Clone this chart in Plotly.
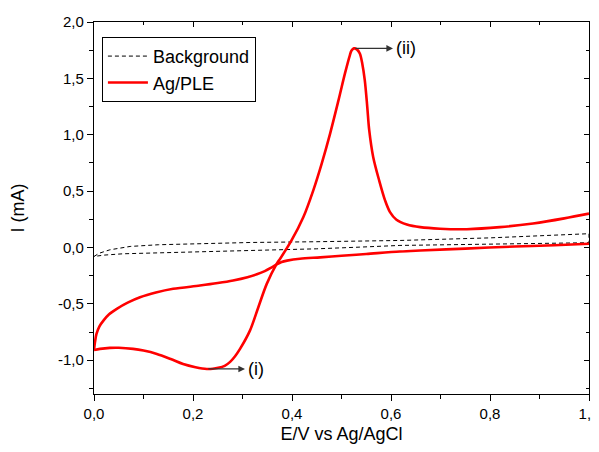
import plotly.graph_objects as go

# Background CV (forward then reverse)
bg_x = [0.0, 0.010, 0.032, 0.073, 0.130, 0.194, 0.315, 0.450, 0.537, 0.618, 0.800, 1.0,
        1.0, 0.800, 0.618, 0.537, 0.450, 0.315, 0.194, 0.120, 0.059, 0.020, 0.0]
bg_y = [-0.080, -0.052, -0.021, 0.009, 0.024, 0.033, 0.044, 0.051, 0.056, 0.062, 0.085, 0.122,
        0.042, 0.030, 0.018, 0.003, -0.012, -0.027, -0.041, -0.048, -0.056, -0.068, -0.080]

# Ag/PLE CV: lower-left branch -> return branch, gap, then upper branch through peaks
ag_x = [0.0, 0.002, 0.005, 0.011, 0.019, 0.030, 0.046, 0.068, 0.093, 0.125, 0.160, 0.214,
        0.250, 0.281, 0.310, 0.329, 0.345, 0.357, 0.369, 0.379, 0.390, 0.416, 0.457,
        0.500, 0.550, 0.618, 0.659, 0.750, 0.850, 0.930, 1.0,
        None,
        1.0, 0.950, 0.887, 0.820, 0.753, 0.699, 0.659, 0.632, 0.611, 0.598, 0.588, 0.576,
        0.564, 0.556, 0.552, 0.547, 0.542, 0.537, 0.531, 0.525, 0.520, 0.517, 0.507, 0.494,
        0.477, 0.460, 0.443, 0.423, 0.399, 0.376, 0.369, 0.349, 0.332, 0.315, 0.295, 0.285,
        0.275, 0.264, 0.251, 0.240, 0.228, 0.205, 0.180, 0.155, 0.127, 0.100, 0.079, 0.050,
        0.032, 0.012, 0.0]
ag_y = [-0.910, -0.840, -0.767, -0.700, -0.649, -0.595, -0.545, -0.490, -0.442, -0.400, -0.367, -0.338,
        -0.316, -0.293, -0.264, -0.238, -0.210, -0.182, -0.150, -0.129, -0.117, -0.100, -0.088,
        -0.074, -0.058, -0.036, -0.027, -0.010, 0.008, 0.020, 0.033,
        None,
        0.300, 0.258, 0.213, 0.180, 0.162, 0.166, 0.180, 0.204, 0.246, 0.314, 0.418, 0.596,
        0.803, 1.040, 1.250, 1.484, 1.630, 1.720, 1.757, 1.766, 1.745, 1.707, 1.544, 1.307,
        1.010, 0.744, 0.507, 0.270, 0.062, -0.100, -0.145, -0.323, -0.530, -0.738, -0.900, -0.965,
        -1.015, -1.050, -1.068, -1.076, -1.078, -1.062, -1.034, -0.990, -0.945, -0.915, -0.900, -0.890,
        -0.891, -0.900, -0.910]

x_ticks = [0.0, 0.2, 0.4, 0.6, 0.8, 1.0]
y_ticks = [-1.0, -0.5, 0.0, 0.5, 1.0, 1.5, 2.0]


def lab(v):
    return f"{v:.1f}".replace(".", ",")


FONT = "Liberation Sans, Arial, sans-serif"

fig = go.Figure()
fig.add_trace(go.Scatter(x=bg_x, y=bg_y, mode="lines", name="Background",
                         line=dict(color="black", width=1, dash="4px,3px")))
fig.add_trace(go.Scatter(x=ag_x, y=ag_y, mode="lines", name="Ag/PLE",
                         line=dict(color="#ff0000", width=2.6, shape="spline", smoothing=0.9),
                         connectgaps=False))
# placeholder trace so the mirrored top/right axes are drawn
fig.add_trace(go.Scatter(x=[None], y=[None], xaxis="x2", yaxis="y2", showlegend=False,
                         hoverinfo="skip"))

# peak positions from data
vals = [(xv, yv) for xv, yv in zip(ag_x, ag_y) if yv is not None]
px_ii, py_ii = max(vals, key=lambda p: p[1])
px_i, py_i = min(vals, key=lambda p: p[1])

ann = []
for (tx, ty, hx, text) in [(px_ii, py_ii, 0.604, "(ii)"), (px_i, py_i, 0.305, "(i)")]:
    ann.append(dict(x=hx, y=ty, ax=tx, ay=ty, xref="x", yref="y", axref="x", ayref="y",
                    text="", showarrow=True, arrowhead=2, arrowsize=1.1, arrowwidth=1.2,
                    arrowcolor="#333333"))
    ann.append(dict(x=hx + 0.002, y=ty, xref="x", yref="y", text=text, showarrow=False,
                    xanchor="left", yanchor="middle", font=dict(family=FONT, size=18, color="black")))

axis_common = dict(showgrid=False, zeroline=False, linecolor="black", linewidth=1.3,
                   tickcolor="black", automargin=False, ticklabeloverflow="allow",
                   tickfont=dict(family=FONT, size=15, color="black"))

# the page body adds an 8px offset, so the figure is sized/margined to compensate
fig.update_layout(
    width=591, height=436,
    margin=dict(l=86, r=10, t=14, b=50),
    paper_bgcolor="white", plot_bgcolor="white",
    showlegend=True,
    legend=dict(x=0.016, y=0.96, xanchor="left", yanchor="top",
                bordercolor="black", borderwidth=1, bgcolor="white",
                font=dict(family=FONT, size=18, color="black"),
                tracegroupgap=0, itemwidth=40),
    xaxis=dict(range=[0, 1.0], tickvals=x_ticks, ticktext=[lab(v) for v in x_ticks],
               ticks="outside", ticklen=6,
               minor=dict(dtick=0.1, ticks="outside", ticklen=4, tickcolor="black"),
               title=dict(text="E/V vs Ag/AgCl", font=dict(family=FONT, size=18, color="black"),
                          standoff=9),
               **axis_common),
    yaxis=dict(range=[-1.3, 2.0], tickvals=y_ticks, ticktext=[lab(v) for v in y_ticks],
               ticks="outside", ticklen=6,
               minor=dict(dtick=0.25, tick0=0, ticks="outside", ticklen=4, tickcolor="black"),
               title=dict(text="I (mA)", font=dict(family=FONT, size=18, color="black"),
                          standoff=29),
               **axis_common),
    xaxis2=dict(range=[0, 1.0], overlaying="x", side="top", anchor="y2", tickvals=x_ticks,
                showticklabels=False, ticks="inside", ticklen=5, showgrid=False, zeroline=False,
                linecolor="black", linewidth=1.3, tickcolor="black", automargin=False,
                minor=dict(dtick=0.1, ticks="inside", ticklen=3, tickcolor="black")),
    yaxis2=dict(range=[-1.3, 2.0], overlaying="y", side="right", anchor="x2", tickvals=y_ticks,
                showticklabels=False, ticks="inside", ticklen=5, showgrid=False, zeroline=False,
                linecolor="black", linewidth=1.3, tickcolor="black", automargin=False,
                minor=dict(dtick=0.25, tick0=0, ticks="inside", ticklen=3, tickcolor="black")),
    annotations=ann,
)

fig.write_html("out.html")
